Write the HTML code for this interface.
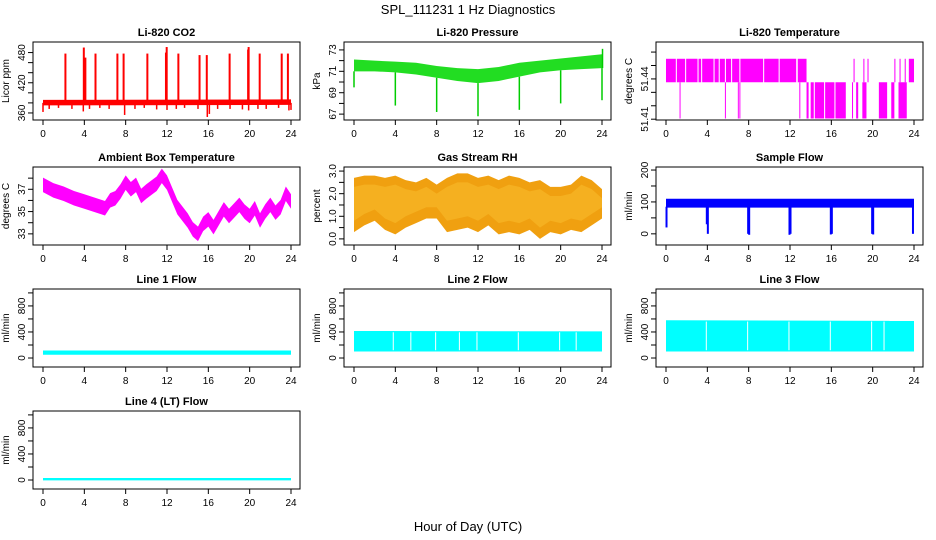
<!DOCTYPE html>
<html><head><meta charset="utf-8">
<style>
body{margin:0;background:#fff;}
svg{display:block;font-family:"Liberation Sans",sans-serif;}
</style></head>
<body>
<svg id="c" width="936" height="540" viewBox="0 0 936 540" xmlns="http://www.w3.org/2000/svg">
<rect width="936" height="540" fill="#fff"/>
<text x="468" y="14" font-size="13" text-anchor="middle">SPL_111231  1 Hz Diagnostics</text>
<text x="468" y="531" font-size="13" text-anchor="middle">Hour of Day (UTC)</text>
</svg>
<script>
// ---- data arrays ----
const xTicks = [0,4,8,12,16,20,24];
// CO2
const co2Hours = [0,24];
const co2Lo = [375,376];
const co2Hi = [386,387];
const co2SpikeHours = [2.17,3.95,4.1,5.08,7.2,7.8,10.1,11.9,11.97,13.1,15.15,15.85,18.06,19.85,19.9,20.97,23.1,23.7];
const co2SpikeVals = [478,490,470,478,478,478,478,480,491,478,475,475,478,486,491,478,478,478];
const co2DipHours = [0,0.6,1.5,2.8,3.9,4.5,5.5,6.4,7.9,8.9,9.8,11,12,12.9,13.7,15,15.9,16.1,16.9,18.1,19.3,19.9,20.8,21.6,22.8,23.8,24];
const co2DipVals = [362,368,370,368,363,368,370,368,356,368,370,367,366,368,370,368,352,358,368,368,367,365,368,368,370,365,366];
// Pressure
const presHours = [0,2,4,6,8,10,12,14,16,18,20,22,24];
const presLo = [71.0,71.0,70.9,70.7,70.4,70.1,69.9,70.1,70.5,70.9,71.1,71.2,71.3];
const presHi = [72.1,72.0,71.9,71.8,71.5,71.3,71.2,71.4,71.8,72.0,72.2,72.4,72.6];
const presDipHours = [0,4,8,12,16,20,24,24.05];
const presDipVals = [69.5,67.8,67.2,66.8,67.4,68.0,68.3,73.1];
// Li-820 temperature
const tempUpperLevel = [51.4375,51.455];
const tempLowerLevel = [51.4105,51.4375];
const tempUpperSegs = [[0,0.95],[1.05,1.85],[1.95,3.05],[3.15,3.4],[3.5,4.6],[4.7,5.1],[5.2,5.7],[5.8,6.3],[6.4,7.1],[7.2,9.4],[9.5,10.9],[11,12.6],[12.75,13.6],[18.15,18.25],[19.1,19.2],[19.5,19.6],[22.1,22.2],[22.6,22.7],[23.1,23.2],[23.5,24]];
const tempLowerSegs = [[12.9,13.0],[13.6,13.8],[14.0,14.3],[14.4,15.3],[15.4,16.3],[16.4,17.4],[18.0,18.1],[18.4,18.6],[19.0,19.4],[20.6,21.4],[21.8,22.1],[22.5,23.3]];
const tempDropHours = [1.36,5.75,7.0,7.15];
// Ambient box temperature
const ambHours = [0,1,2,3,4,5,6,6.5,7,7.5,8,8.5,9,9.5,10,11,11.5,12,12.5,13,14,14.5,15,15.5,16,16.5,17,17.5,18,18.5,19,19.5,20,20.5,21,21.5,22,22.5,23,23.5,24];
const ambVals = [37.4,36.9,36.6,36.2,35.9,35.6,35.3,36.0,36.2,36.8,37.6,37.0,37.4,36.4,36.8,37.5,38.2,37.6,36.5,35.4,34.2,33.4,33.0,33.9,34.3,33.6,34.4,35.2,34.6,35.1,35.6,35.0,34.6,35.3,34.2,35.0,35.6,34.9,35.4,36.6,35.9];
// Gas stream RH
const rhHours = [0,1,2,3,4,5,6,7,8,9,10,11,12,13,14,15,16,17,18,19,20,21,22,23,24];
const rhLo = [0.3,0.6,0.8,0.4,0.2,0.5,0.7,0.9,0.9,0.3,0.4,0.5,0.3,0.6,0.2,0.3,0.2,0.4,0.0,0.3,0.2,0.4,0.3,0.6,0.9];
const rhHi = [2.7,2.8,2.8,2.7,2.8,2.6,2.5,2.7,2.4,2.7,2.9,2.9,2.7,2.8,2.6,2.8,2.7,2.5,2.6,2.3,2.3,2.4,2.8,2.6,2.2];
// Sample flow
const sfHours = [0,24];
const sfLo = [82,82];
const sfHi = [110,110];
const sfDipHours = [0.05,3.95,4.05,7.95,8.05,11.95,12.05,15.95,16.05,19.95,20.05,23.9];
const sfDipVals = [20,30,0,0,-3,-3,0,-2,0,0,-2,0];
// Line flows
const lfHours = [0,24];
const line1Lo = [50,50], line1Hi = [115,115];
const line2Lo = [100,100], line2Hi = [415,410];
const line3Lo = [100,100], line3Hi = [580,570];
const line4Lo = [-5,-5], line4Hi = [30,30];
const line2Gaps = [3.8,5.5,7.9,10.2,11.9,15.9,19.9,21.5];
const line3Gaps = [3.9,7.9,11.9,15.9,19.9,21.1];

// ---- drawing ----
const svg = document.getElementById('c');
const NS = 'http://www.w3.org/2000/svg';
function mk(tag, attrs, parent){
  const e = document.createElementNS(NS, tag);
  for (const k in attrs) e.setAttribute(k, attrs[k]);
  (parent||svg).appendChild(e);
  return e;
}
const colL = [33,344,656], rowT = [42,167,289,411], W = 267, H = 78;

function panel(col,row,title,ylab,ymin,ymax,ticks,labels,name){
  const L = colL[col], T = rowT[row];
  const g = mk('g',{});
  
  
  const sx = h => L + 10 + h*(248/24);
  const sy = v => T + H - (v-ymin)/(ymax-ymin)*H;
  const t = mk('text',{x:L+W/2,y:T-6,'font-size':11,'font-weight':'bold','text-anchor':'middle'},g);
  t.textContent = title;
  
  
  const yl = mk('text',{x:0,y:0,'font-size':10,'text-anchor':'middle',transform:`translate(${L-24},${T+H/2}) rotate(-90)`},g);
  yl.textContent = ylab;
  
  
  ticks.forEach(v=>{
    const y = sy(v);
    mk('line',{x1:L-5,x2:L,y1:y,y2:y,stroke:'#000','stroke-width':1},g);
  });
  labels.forEach(lb=>{
    const y = sy(lb[0]);
    const tx = mk('text',{x:0,y:0,'font-size':10,'text-anchor':'middle',transform:`translate(${L-8},${y}) rotate(-90)`},g);
    tx.textContent = lb[1];
    
    
  });
  xTicks.forEach(h=>{
    const x = sx(h);
    mk('line',{x1:x,x2:x,y1:T+H,y2:T+H+5,stroke:'#000','stroke-width':1},g);
    const tx = mk('text',{x:x,y:T+H+17,'font-size':10,'text-anchor':'middle'},g);
    tx.textContent = h;
    
    
  });
  const data = mk('g',{},g);
  
  
  mk('rect',{x:L,y:T,width:W,height:H,fill:'none',stroke:'#000','stroke-width':1},g);
  return {sx,sy,g:data};
}
function band(p,hours,lo,hi,color){
  let pts = hours.map((h,i)=>`${p.sx(h)},${p.sy(hi[i])}`);
  for(let i=hours.length-1;i>=0;i--) pts.push(`${p.sx(hours[i])},${p.sy(lo[i])}`);
  const e = mk('polygon',{points:pts.join(' '),fill:color},p.g);
  
  
}
function vline(p,h,v1,v2,color,w){
  const e = mk('line',{x1:p.sx(h),x2:p.sx(h),y1:p.sy(v1),y2:p.sy(v2),stroke:color,'stroke-width':w||1.5},p.g);
  
  
}
function interp(hours,vals,h){
  for(let i=0;i<hours.length-1;i++){
    if(h>=hours[i]&&h<=hours[i+1]){const f=(h-hours[i])/(hours[i+1]-hours[i]);return vals[i]+f*(vals[i+1]-vals[i]);}
  }
  return vals[vals.length-1];
}

// CO2
let p = panel(0,0,'Li-820 CO2','Licor ppm',346,501,[360,380,400,420,440,460,480],[[360,'360'],[420,'420'],[480,'480']],'co2');
band(p,co2Hours,co2Lo,co2Hi,'#ff0000');
co2SpikeHours.forEach((h,i)=>vline(p,h,380,co2SpikeVals[i],'#ff0000',2));
co2DipHours.forEach((h,i)=>vline(p,h,380,co2DipVals[i],'#ff0000',1.5));

// Pressure
p = panel(1,0,'Li-820 Pressure','kPa',66.45,73.74,[67,68,69,70,71,72,73],[[67,'67'],[69,'69'],[71,'71'],[73,'73']],'pressure');
band(p,presHours,presLo,presHi,'#22dd22');
presDipHours.forEach((h,i)=>vline(p,h,interp(presHours,presLo,Math.min(h,24)),presDipVals[i],'#00cc00',1.5));

// Li-820 temperature
p = panel(2,0,'Li-820 Temperature','degrees C',51.4094,51.4675,[51.41,51.42,51.43,51.44,51.45,51.46],[[51.41,'51.41'],[51.44,'51.44']],'li820-temp');
tempUpperSegs.forEach(s=>band(p,[s[0],s[1]],[tempUpperLevel[0],tempUpperLevel[0]],[tempUpperLevel[1],tempUpperLevel[1]],'#ff00ff'));
tempLowerSegs.forEach(s=>band(p,[s[0],s[1]],[tempLowerLevel[0],tempLowerLevel[0]],[tempLowerLevel[1],tempLowerLevel[1]],'#ff00ff'));
tempDropHours.forEach(h=>vline(p,h,tempLowerLevel[1],tempLowerLevel[0],'#ff00ff',1));

// Ambient
p = panel(0,1,'Ambient Box Temperature','degrees C',32,39,[33,34,35,36,37,38],[[33,'33'],[35,'35'],[37,'37']],'ambient-temp');
band(p,ambHours,ambVals.map(v=>v-0.65),ambVals.map(v=>v+0.65),'#ff00ff');

// RH
p = panel(1,1,'Gas Stream RH','percent',-0.27,3.18,[0,0.5,1,1.5,2,2.5,3],[[0,'0.0'],[1,'1.0'],[2,'2.0'],[3,'3.0']],'gas-rh');
band(p,rhHours,rhLo,rhHi,'#f0a010');
band(p,rhHours,rhLo.map(v=>v+0.5),rhHi.map(v=>v-0.4),'#f5b020');

// Sample flow
p = panel(2,1,'Sample Flow','ml/min',-35,209.5,[0,50,100,150,200],[[0,'0'],[100,'100'],[200,'200']],'sample-flow');
band(p,sfHours,sfLo,sfHi,'#0000ff');
sfDipHours.forEach((h,i)=>vline(p,h,85,sfDipVals[i],'#0000ff',2));

// Line flows
const lt = [0,200,400,600,800,1000], ll = [[0,'0'],[400,'400'],[800,'800']];
p = panel(0,2,'Line 1 Flow','ml/min',-138,1060,lt,ll,'line1-flow');
band(p,lfHours,line1Lo,line1Hi,'#00ffff');
p = panel(1,2,'Line 2 Flow','ml/min',-138,1060,lt,ll,'line2-flow');
band(p,lfHours,line2Lo,line2Hi,'#00ffff');
line2Gaps.forEach(h=>vline(p,h,line2Lo[0]+20,line2Hi[0]-20,'#ffffff',1));
p = panel(2,2,'Line 3 Flow','ml/min',-138,1060,lt,ll,'line3-flow');
band(p,lfHours,line3Lo,line3Hi,'#00ffff');
line3Gaps.forEach(h=>vline(p,h,line3Lo[0]+20,line3Hi[0]-20,'#ffffff',1));
p = panel(0,3,'Line 4 (LT) Flow','ml/min',-138,1060,lt,ll,'line4-flow');
band(p,lfHours,line4Lo,line4Hi,'#00ffff');
</script>
</body></html>
